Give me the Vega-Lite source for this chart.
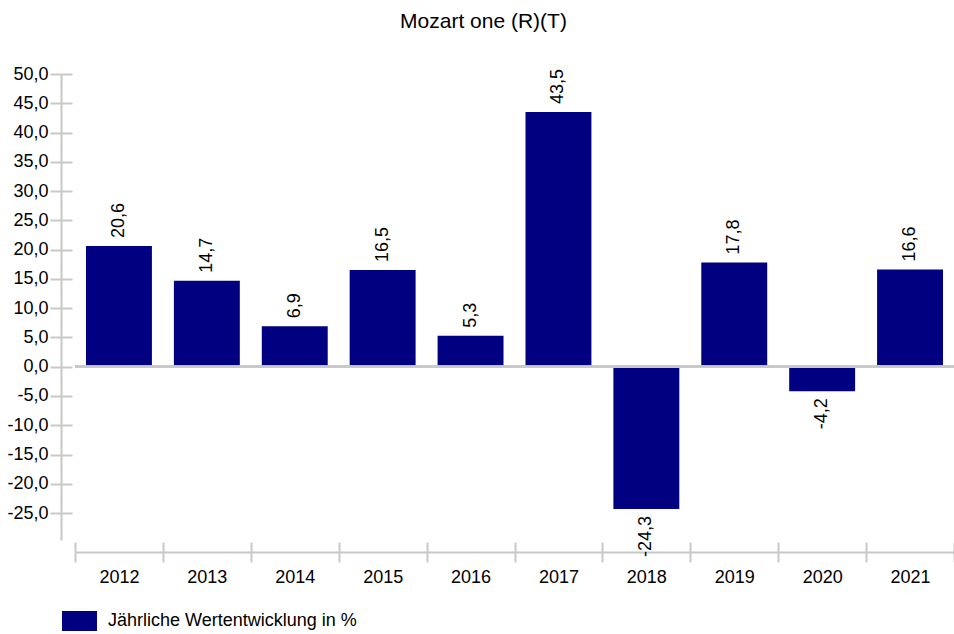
{
  "$schema": "https://vega.github.io/schema/vega-lite/v6.json",
  "autosize": "none",
  "padding": {"left": 75, "top": 74, "right": 0, "bottom": 94},
  "width": 879,
  "height": 466,
  "background": "white",
  "config": {
    "view": {"stroke": null},
    "font": "Liberation Sans",
    "locale": {"number": {"decimal": ",", "thousands": ".", "grouping": [3], "currency": ["", " €"], "minus": "-"}},
    "axis": {"labelFont": "Liberation Sans", "labelFontSize": 18, "labelColor": "#000000", "domainColor": "#c8c8c8", "tickColor": "#c8c8c8", "domainWidth": 2, "tickWidth": 2, "grid": false, "title": null}
  },
  "title": {"text": "Mozart one (R)(T)", "fontSize": 21, "fontWeight": "normal", "font": "Liberation Sans", "color": "#000000", "anchor": "middle", "frame": "group", "dx": -31, "offset": 33},
  "data": {"values": [
    {"year": "2012", "value": 20.6},
    {"year": "2013", "value": 14.7},
    {"year": "2014", "value": 6.9},
    {"year": "2015", "value": 16.5},
    {"year": "2016", "value": 5.3},
    {"year": "2017", "value": 43.5},
    {"year": "2018", "value": -24.3},
    {"year": "2019", "value": 17.8},
    {"year": "2020", "value": -4.2},
    {"year": "2021", "value": 16.6}
  ]},
  "resolve": {"axis": {"x": "independent", "y": "independent"}},
  "layer": [
    {
      "mark": {"type": "bar", "color": "#000080", "width": {"band": 0.75}},
      "encoding": {
        "x": {"field": "year", "type": "nominal", "sort": null,
          "scale": {"paddingInner": 0, "paddingOuter": 0},
          "axis": {"orient": "bottom", "labelAngle": 0, "offset": 12, "tickSize": 10, "tickBand": "extent", "labelPadding": 6, "domain": true, "ticks": true}},
        "y": {"field": "value", "type": "quantitative",
          "scale": {"domain": [-29.6, 50], "nice": false, "zero": false},
          "axis": {"orient": "left", "offset": 14, "tickSize": 11, "labelPadding": 2, "values": [-25, -20, -15, -10, -5, 0, 5, 10, 15, 20, 25, 30, 35, 40, 45, 50], "format": ".1f"}},
        "color": {"datum": "Jährliche Wertentwicklung in %", "type": "nominal",
          "scale": {"range": ["#000080"]},
          "legend": {"title": null, "orient": "none", "legendX": -13, "legendY": 529.5, "padding": 0,
            "symbolType": "M-1,-0.57L1,-0.57L1,0.57L-1,0.57Z", "symbolSize": 1225, "symbolStrokeWidth": 0,
            "labelFont": "Liberation Sans", "labelFontSize": 18, "labelColor": "#000000", "labelOffset": 11, "labelLimit": 0}}
      }
    },
    {
      "mark": {"type": "rule", "color": "#c8c8c8", "strokeWidth": 2},
      "encoding": {"y": {"datum": 0, "type": "quantitative", "axis": null}}
    },
    {
      "transform": [{"filter": "datum.value >= 0"}],
      "mark": {"type": "text", "angle": 270, "align": "left", "baseline": "middle", "dx": 8, "fontSize": 18, "font": "Liberation Sans", "color": "#000000"},
      "encoding": {
        "x": {"field": "year", "type": "nominal", "sort": null,
          "axis": {"orient": "bottom", "offset": 12, "tickSize": -10, "tickBand": "extent", "labels": false, "domain": false}},
        "y": {"field": "value", "type": "quantitative",
          "axis": {"orient": "left", "offset": 14, "tickSize": -11, "labels": false, "domain": false, "values": [-25, -20, -15, -10, -5, 0, 5, 10, 15, 20, 25, 30, 35, 40, 45, 50]}},
        "text": {"field": "value", "type": "quantitative", "format": ".1f"}
      }
    },
    {
      "transform": [{"filter": "datum.value < 0"}],
      "mark": {"type": "text", "angle": 270, "align": "right", "baseline": "middle", "dx": -7, "fontSize": 18, "font": "Liberation Sans", "color": "#000000"},
      "encoding": {
        "x": {"field": "year", "type": "nominal", "sort": null, "axis": null},
        "y": {"field": "value", "type": "quantitative", "axis": null},
        "text": {"field": "value", "type": "quantitative", "format": ".1f"}
      }
    }
  ]
}
